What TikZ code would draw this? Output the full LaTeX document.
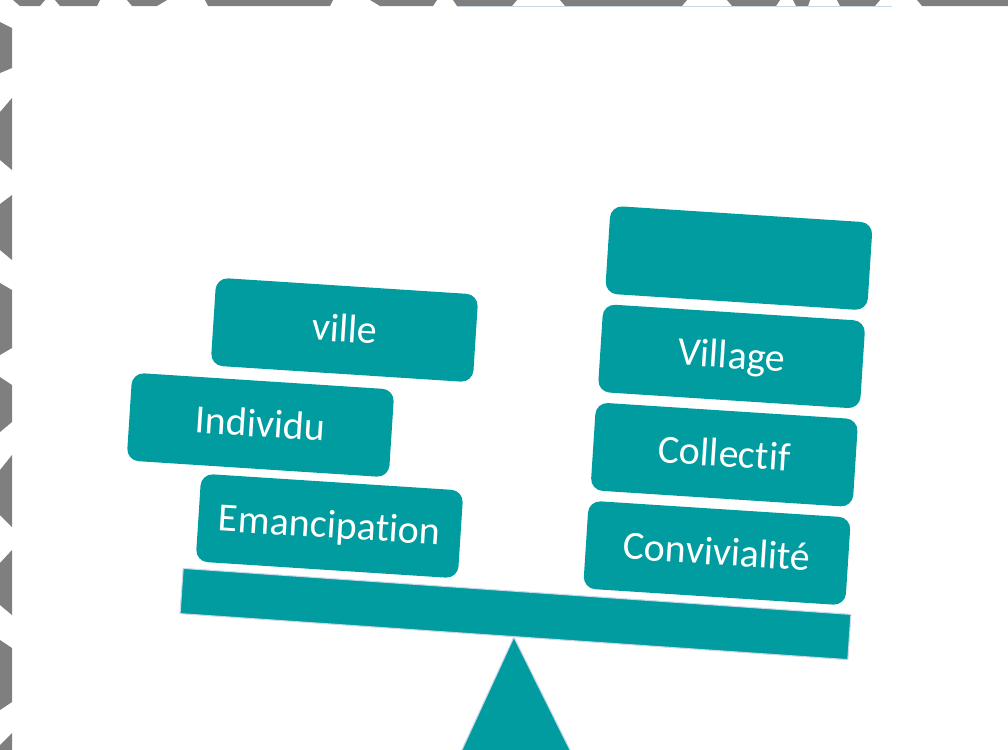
\documentclass[tikz,border=0pt]{standalone}
\usepackage{fontspec}
\setmainfont[Ligatures={NoCommon}]{Carlito}
\tikzset{
  weight-box/.style={
    rectangle,
    rounded corners=9pt,
    fill=balanceteal,
    text=white,
    minimum width=197pt,
    minimum height=66pt,
    inner sep=0pt,
    text height=24.5pt,
    text depth=6.5pt,
    font=\fontsize{30}{33}\selectfont,
    rotate=-3.7
  },
  beam/.style={
    rectangle,
    fill=balanceteal,
    draw=edgeblue,
    line width=0.8pt,
    minimum width=502pt,
    minimum height=34pt,
    inner sep=0pt,
    rotate=-3.94
  },
  deco/.style={fill=decogray, draw=none}
}
\definecolor{balanceteal}{RGB}{0,156,160}
\definecolor{decogray}{RGB}{127,127,127}
\definecolor{edgeblue}{RGB}{200,216,232}

\begin{document}
\begin{tikzpicture}[x=0.75pt, y=-0.75pt]
  \useasboundingbox (0,0) rectangle (1008,750);

  % --- Border pattern (top strip) ---
  \foreach \a/\b/\c/\d in {13/45/20/40, 55/100/60/97, 127/167/132/157,
      205/333/208/330, 370/437/380/433, 453/517/457/512, 560/687/565/682,
      727/780/732/776, 793/810/796/808, 837/880/840/875, 917/1008/922/1008} {
    \fill[deco] (\a,0) -- (\b,0) -- (\d,6) -- (\c,6) -- cycle;
  }
  \draw[edgeblue, line width=0.8pt] (457,6.5) -- (892,6.5);

  % --- Border pattern (left strip) ---
  % left top / left bottom / right top / right bottom
  \foreach \ta/\ba/\tb/\bb in {22/73/28/68, 112/160/98/170, 204/250/195/260,
      283/355/290/348, 377/432/385/422, 470/515/455/527, 563/605/550/615,
      640/710/648/702, 745/760/733/760} {
    \fill[deco] (0,\ta) -- (12,\tb) -- (12,\bb) -- (0,\ba) -- cycle;
  }

  % --- Scale ---
  \node[beam] (fleau) at (515.5,614) {};
  \filldraw[balanceteal, draw=edgeblue, line width=0.8pt]
    (fleau.south) -- (571,752) -- (461,752) -- cycle;

  % --- Left pan ---
  \node[weight-box] (emancipation) at (329.5,526) {Emancipation};
  \node[weight-box] (individu) at (260.5,425) {Individu};
  \node[weight-box] (ville) at (344.5,330) {ville};

  % --- Right pan: each weight sits 98px higher, 7.3px to the right ---
  \foreach \name/\txt [count=\i from 0] in {convivialite/Convivialité,
      collectif/Collectif, village/Village, vide/{}} {
    \pgfmathsetmacro{\cx}{717 + \i*7.3}
    \pgfmathsetmacro{\cy}{553 - \i*98.3}
    \node[weight-box] (\name) at (\cx,\cy) {\txt};
  }
\end{tikzpicture}
\end{document}
